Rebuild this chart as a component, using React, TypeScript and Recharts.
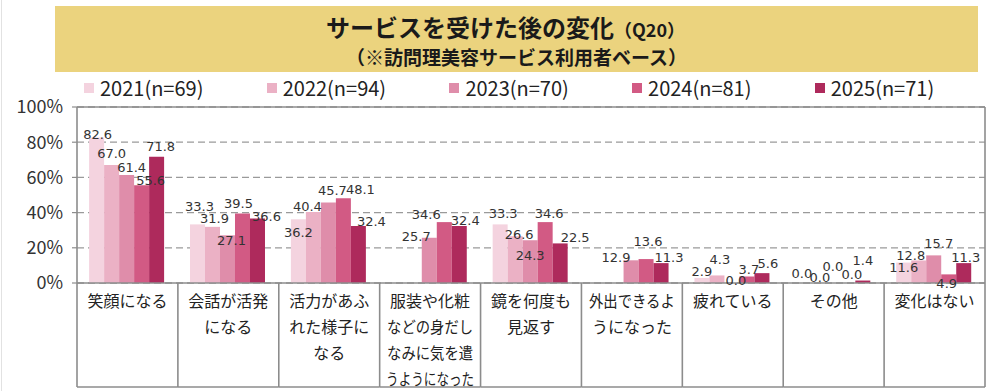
import React from 'react';
import { BarChart, Bar, XAxis, YAxis, CartesianGrid, LabelList, ReferenceLine } from 'recharts';

const categories = [
  '笑顔になる',
  '会話が活発\nになる',
  '活力があふ\nれた様子に\nなる',
  '服装や化粧\nなどの身だし\nなみに気を遣\nうようになった',
  '鏡を何度も\n見返す',
  '外出できるよ\nうになった',
  '疲れている',
  'その他',
  '変化はない',
];

const seriesNames = ['2021(n=69)', '2022(n=94)', '2023(n=70)', '2024(n=81)', '2025(n=71)'];
const s2021 = [82.6, 33.3, 36.2, null, 33.3, null, 2.9, 0.0, 11.6];
const s2022 = [67.0, 31.9, 40.4, null, 26.6, null, 4.3, 0.0, 12.8];
const s2023 = [61.4, 27.1, 45.7, 25.7, 24.3, 12.9, 0.0, 0.0, 15.7];
const s2024 = [55.6, 39.5, 48.1, 34.6, 34.6, 13.6, 3.7, 0.0, 4.9];
const s2025 = [71.8, 36.6, 32.4, 32.4, 22.5, 11.3, 5.6, 1.4, 11.3];
const yTicks = [0, 20, 40, 60, 80, 100];

const seriesValues = [s2021, s2022, s2023, s2024, s2025];
const seriesKeys = ['y2021', 'y2022', 'y2023', 'y2024', 'y2025'];
const colors = ['#F4D3DF', '#EBB1C5', '#DF8DAA', '#D25A84', '#AE2A5C'];

// label nudges [dx, dy] (style only), per series per category
const labelNudge: number[][][] = [
  [[1, 9], [2, -6], [0, 25], [0, 0], [3, 1], [0, 0], [0, 6], [-1, 3], [0, 17]],
  [[0, 0], [2, 4], [-6, 7], [0, 0], [4, 10], [0, 0], [3, -4], [2, 7], [-8, 7]],
  [[5, 5], [4, 17], [4, 0], [-13, 11], [0, 27], [-15, 9], [4, 10], [0, -4], [5, 0]],
  [[9, 7], [-4, 2], [17, 3], [-18, 4], [4, 3], [2, -6], [2, 5], [4, 4], [-2, 21]],
  [[4, 2], [9, 10], [13, 8], [6, 7], [15, 6], [8, 6], [6, 2], [0, -8], [2, 6]],
];

const data = categories.map((c, i) => {
  const row: Record<string, any> = { name: c };
  seriesKeys.forEach((k, s) => {
    row[k] = seriesValues[s][i];
  });
  return row;
});

const W = 1000;
const H = 391;
const PLOT_LEFT = 77;
const PLOT_RIGHT = 985;
const PLOT_TOP = 107;
const PLOT_BOTTOM = 283;
const TABLE_BOTTOM = 387;
const BAND = (PLOT_RIGHT - PLOT_LEFT) / categories.length;
const LINE = '#8c8c8c';
const JP = '"Noto Sans CJK JP", "Noto Sans", sans-serif';
const NUM = '"DejaVu Sans", sans-serif';

const makeLabel = (s: number) => (props: any) => {
  const { x, y, width, value } = props;
  if (value === null || value === undefined || x === undefined) return null;
  const cx = Number(x) + Number(width) / 2;
  const ci = Math.max(0, Math.min(categories.length - 1, Math.floor((cx - PLOT_LEFT) / BAND)));
  const n = labelNudge[s][ci] || [0, 0];
  return (
    <text
      x={cx + n[0]}
      y={Number(y) - 12 + n[1]}
      textAnchor="middle"
      dominantBaseline="central"
      fontFamily={NUM}
      fontSize={13}
      fill="#333"
    >
      {Number(value).toFixed(1)}
    </text>
  );
};

const XTick = (props: any) => {
  const { x, payload, index } = props;
  const lines = String(payload.value).split('\n');
  const left = x - BAND / 2;
  const right = x + BAND / 2;
  return (
    <g>
      <line x1={left} y1={PLOT_BOTTOM} x2={left} y2={TABLE_BOTTOM} stroke={LINE} strokeWidth={1.6} />
      <line x1={left} y1={TABLE_BOTTOM} x2={right} y2={TABLE_BOTTOM} stroke={LINE} strokeWidth={1.6} />
      {index === categories.length - 1 && (
        <line x1={right} y1={PLOT_TOP} x2={right} y2={TABLE_BOTTOM} stroke={LINE} strokeWidth={1.6} />
      )}
      {lines.map((t, i) => {
        const fit = t.length >= 6 ? { textLength: t.length >= 7 ? 88 : 86, lengthAdjust: 'spacingAndGlyphs' } : {};
        return (
          <text
            key={i}
            x={x}
            y={300 + i * 26}
            textAnchor="middle"
            dominantBaseline="central"
            fontFamily={JP}
            fontSize={16}
            fill="#222"
            {...(fit as any)}
          >
            {t}
          </text>
        );
      })}
    </g>
  );
};

export default function App() {
  return (
    <div style={{ position: 'absolute', left: 0, top: 0, width: W, height: H, background: '#fff', overflow: 'hidden' }}>
      <div style={{ position: 'absolute', left: 1, top: 0, width: 1, height: H, background: '#e2e2e2' }} />
      <div
        style={{
          position: 'absolute',
          left: 55,
          top: 6,
          width: 923,
          height: 66,
          background: '#EBD37E',
          textAlign: 'center',
          fontFamily: JP,
          fontWeight: 700,
          color: '#1a1a1a',
          paddingTop: 6,
          boxSizing: 'border-box',
        }}
      >
        <div style={{ lineHeight: '30px', fontSize: 24, paddingRight: 22 }}>
          サービスを受けた後の変化<span style={{ fontSize: 18 }}>（Q20）</span>
        </div>
        <div style={{ lineHeight: '26px', fontSize: 19 }}>（※訪問理美容サービス利用者ベース）</div>
      </div>
      <div style={{ position: 'absolute', left: 84, top: 76, height: 24, display: 'flex', fontFamily: JP }}>
        {seriesNames.map((n, i) => (
          <div key={n} style={{ width: 182.7, display: 'flex', alignItems: 'center', height: 24 }}>
            <span style={{ display: 'inline-block', width: 10, height: 10, background: colors[i], marginRight: 6 }} />
            <span style={{ fontSize: 20, color: '#222', lineHeight: '24px' }}>{n}</span>
          </div>
        ))}
      </div>
      <div style={{ position: 'absolute', left: 0, top: 0 }}>
        <BarChart
          width={W}
          height={H}
          data={data}
          margin={{ top: PLOT_TOP, right: W - PLOT_RIGHT, bottom: 0, left: 0 }}
          barCategoryGap="12%"
          barGap={0}
        >
          <CartesianGrid vertical={false} stroke="#9a9a9a" strokeDasharray="7 4" strokeWidth={1.3} />
          <ReferenceLine y={100} stroke={LINE} strokeWidth={1.4} />
          <XAxis
            dataKey="name"
            height={H - PLOT_BOTTOM}
            interval={0}
            tickLine={false}
            axisLine={{ stroke: LINE, strokeWidth: 1.6 }}
            tick={<XTick />}
          />
          <YAxis
            width={PLOT_LEFT}
            domain={[0, 100]}
            ticks={yTicks}
            tickFormatter={(v: number) => `${v}%`}
            axisLine={{ stroke: LINE, strokeWidth: 1.6 }}
            tickLine={{ stroke: LINE, strokeWidth: 1.2 }}
            tickSize={5}
            tickMargin={9}
            tick={{ fontFamily: JP, fontSize: 18, fill: '#333' }}
          />
          {seriesKeys.map((k, s) => (
            <Bar
              key={k}
              dataKey={k}
              name={seriesNames[s]}
              fill={colors[s]}
              minPointSize={0.01}
              isAnimationActive={false}
            >
              <LabelList dataKey={k} content={makeLabel(s)} />
            </Bar>
          ))}
        </BarChart>
      </div>
    </div>
  );
}
